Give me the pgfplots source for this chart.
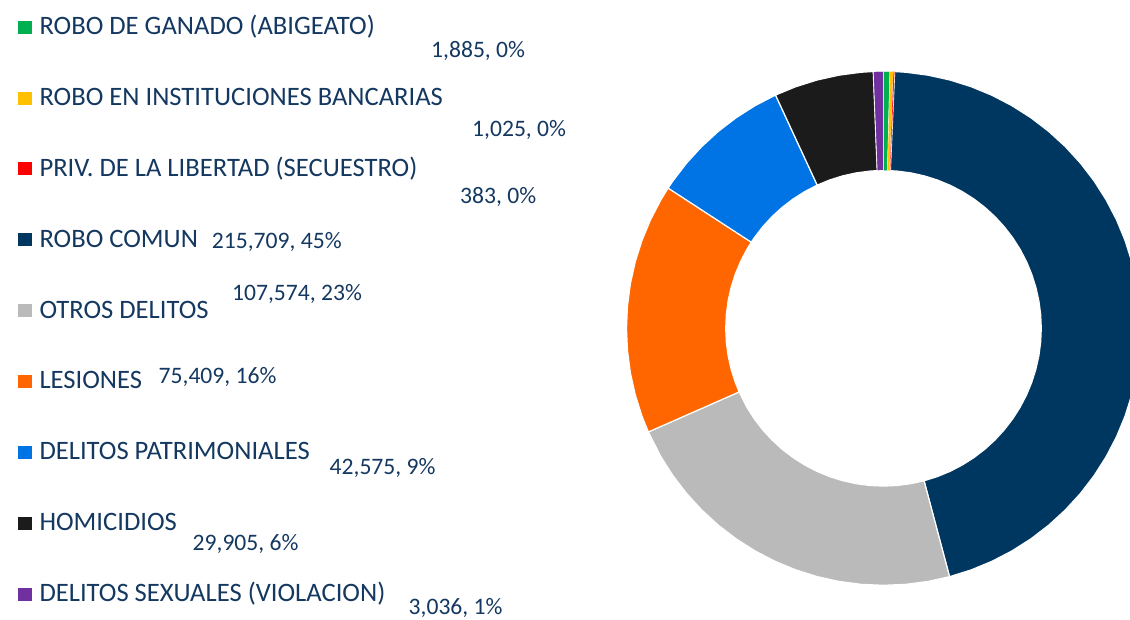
\documentclass[border=0pt]{standalone}
\usepackage{pgfplots}
\pgfplotsset{compat=1.18}
\usepackage{fontspec}
\setmainfont{Carlito}
\definecolor{cGan}{HTML}{00B050}
\definecolor{cBan}{HTML}{FFC000}
\definecolor{cSec}{HTML}{FF0000}
\definecolor{cRob}{HTML}{003761}
\definecolor{cOtr}{HTML}{BABABA}
\definecolor{cLes}{HTML}{FF6600}
\definecolor{cPat}{HTML}{0074E4}
\definecolor{cHom}{HTML}{1B1B1B}
\definecolor{cSex}{HTML}{7030A0}
\definecolor{txt}{HTML}{143860}
\newcommand\lgf{\fontsize{26.6}{30}\selectfont}
\newcommand\lbf{\fontsize{23.6}{28}\selectfont}
\begin{document}
\begin{tikzpicture}
\path[use as bounding box] (0,0) rectangle (1130pt,619pt);
\clip (0,0) rectangle (1130pt,619pt);
% Values: ganado 1885, bancario 1025, secuestro 383, robo comun 215709,
% otros 107574, lesiones 75409, patrimoniales 42575, homicidios 29905, sexuales 3036
% angles (clockwise from top): 1.421, 0.773, 0.289, 162.628, 81.103, 56.853, 32.098, 22.546, 2.289
\begin{axis}[at={(883.5pt,290.7pt)}, anchor=center, width=514pt, height=514pt,
  scale only axis, xmin=-1, xmax=1, ymin=-1, ymax=1, hide axis, clip=false]
\pgfplotsset{every axis plot/.append style={draw=white, line width=1.2pt, line join=round, data cs=polar}}
% robo comun
\addplot[fill=cRob] coordinates {(87.517,1) (85,1) (80,1) (75,1) (70,1) (65,1) (60,1) (55,1) (50,1) (45,1) (40,1) (35,1) (30,1) (25,1) (20,1) (15,1) (10,1) (5,1) (0,1) (-5,1) (-10,1) (-15,1) (-20,1) (-25,1) (-30,1) (-35,1) (-40,1) (-45,1) (-50,1) (-55,1) (-60,1) (-65,1) (-70,1) (-75.111,1)
 (-75.111,0.614) (-70,0.614) (-65,0.614) (-60,0.614) (-55,0.614) (-50,0.614) (-45,0.614) (-40,0.614) (-35,0.614) (-30,0.614) (-25,0.614) (-20,0.614) (-15,0.614) (-10,0.614) (-5,0.614) (0,0.614) (5,0.614) (10,0.614) (15,0.614) (20,0.614) (25,0.614) (30,0.614) (35,0.614) (40,0.614) (45,0.614) (50,0.614) (55,0.614) (60,0.614) (65,0.614) (70,0.614) (75,0.614) (80,0.614) (85,0.614) (87.517,0.614) (87.517,1)};
% otros delitos
\addplot[fill=cOtr] coordinates {(-75.111,1) (-80,1) (-85,1) (-90,1) (-95,1) (-100,1) (-105,1) (-110,1) (-115,1) (-120,1) (-125,1) (-130,1) (-135,1) (-140,1) (-145,1) (-150,1) (-156.214,1)
 (-156.214,0.614) (-150,0.614) (-145,0.614) (-140,0.614) (-135,0.614) (-130,0.614) (-125,0.614) (-120,0.614) (-115,0.614) (-110,0.614) (-105,0.614) (-100,0.614) (-95,0.614) (-90,0.614) (-85,0.614) (-80,0.614) (-75.111,0.614) (-75.111,1)};
% lesiones
\addplot[fill=cLes] coordinates {(-156.214,1) (-160,1) (-165,1) (-170,1) (-175,1) (-180,1) (-185,1) (-190,1) (-195,1) (-200,1) (-205,1) (-210,1) (-213.067,1)
 (-213.067,0.614) (-210,0.614) (-205,0.614) (-200,0.614) (-195,0.614) (-190,0.614) (-185,0.614) (-180,0.614) (-175,0.614) (-170,0.614) (-165,0.614) (-160,0.614) (-156.214,0.614) (-156.214,1)};
% delitos patrimoniales
\addplot[fill=cPat] coordinates {(-213.067,1) (-215,1) (-220,1) (-225,1) (-230,1) (-235,1) (-240,1) (-245.165,1)
 (-245.165,0.614) (-240,0.614) (-235,0.614) (-230,0.614) (-225,0.614) (-220,0.614) (-215,0.614) (-213.067,0.614) (-213.067,1)};
% homicidios
\addplot[fill=cHom] coordinates {(-245.165,1) (-250,1) (-255,1) (-260,1) (-265,1) (-267.711,1)
 (-267.711,0.614) (-265,0.614) (-260,0.614) (-255,0.614) (-250,0.614) (-245.165,0.614) (-245.165,1)};
% delitos sexuales
\addplot[fill=cSex, line width=0.6pt] coordinates {(-267.711,1) (-269,1) (-270,1) (-270,0.614) (-269,0.614) (-267.711,0.614) (-267.711,1)};
% robo de ganado
\addplot[fill=cGan, line width=0.4pt] coordinates {(90,1) (89.3,1) (88.579,1) (88.579,0.614) (90,0.614) (90,1)};
% robo en instituciones bancarias
\addplot[fill=cBan, line width=0.3pt] coordinates {(88.579,1) (87.806,1) (87.806,0.614) (88.579,0.614) (88.579,1)};
% secuestro
\addplot[fill=cSec, line width=0.2pt] coordinates {(87.806,1) (87.517,1) (87.517,0.614) (87.806,0.614) (87.806,1)};
\end{axis}
% legend squares
\fill[cGan] (17.5pt,585.2pt) rectangle (31.5pt,598.2pt);
\fill[cBan] (17.5pt,514.4pt) rectangle (31.5pt,527.4pt);
\fill[cSec] (17.5pt,443.5pt) rectangle (31.5pt,456.5pt);
\fill[cRob] (17.5pt,372.7pt) rectangle (31.5pt,385.7pt);
\fill[cOtr] (17.5pt,301.8pt) rectangle (31.5pt,314.8pt);
\fill[cLes] (17.5pt,231.0pt) rectangle (31.5pt,244.0pt);
\fill[cPat] (17.5pt,160.1pt) rectangle (31.5pt,173.1pt);
\fill[cHom] (17.5pt,89.3pt) rectangle (31.5pt,102.3pt);
\fill[cSex] (17.5pt,18.4pt) rectangle (31.5pt,31.4pt);
% legend texts
\begin{scope}[every node/.style={anchor=base west, inner sep=0pt, text=txt}]
\node[font=\lgf] at (39.3pt,584.2pt) {ROBO DE GANADO (ABIGEATO)};
\node[font=\lgf] at (39.3pt,513.4pt) {ROBO EN INSTITUCIONES BANCARIAS};
\node[font=\lgf] at (39.3pt,442.5pt) {PRIV. DE LA LIBERTAD (SECUESTRO)};
\node[font=\lgf] at (39.3pt,371.7pt) {ROBO COMUN};
\node[font=\lgf] at (39.3pt,300.8pt) {OTROS DELITOS};
\node[font=\lgf] at (39.3pt,230.0pt) {LESIONES};
\node[font=\lgf] at (39.3pt,159.1pt) {DELITOS PATRIMONIALES};
\node[font=\lgf] at (39.3pt,88.3pt) {HOMICIDIOS};
\node[font=\lgf] at (39.3pt,17.4pt) {DELITOS SEXUALES (VIOLACION)};
% data labels
\node[font=\lbf] at (431pt,561.5pt) {1,885, 0\%};
\node[font=\lbf] at (472pt,482pt) {1,025, 0\%};
\node[font=\lbf] at (460pt,415pt) {383, 0\%};
\node[font=\lbf] at (211.7pt,370.7pt) {215,709, 45\%};
\node[font=\lbf] at (232pt,318pt) {107,574, 23\%};
\node[font=\lbf] at (158.5pt,235.5pt) {75,409, 16\%};
\node[font=\lbf] at (329.5pt,144.7pt) {42,575, 9\%};
\node[font=\lbf] at (192.5pt,69pt) {29,905, 6\%};
\node[font=\lbf] at (408.5pt,5pt) {3,036, 1\%};
\end{scope}
\end{tikzpicture}
\end{document}
